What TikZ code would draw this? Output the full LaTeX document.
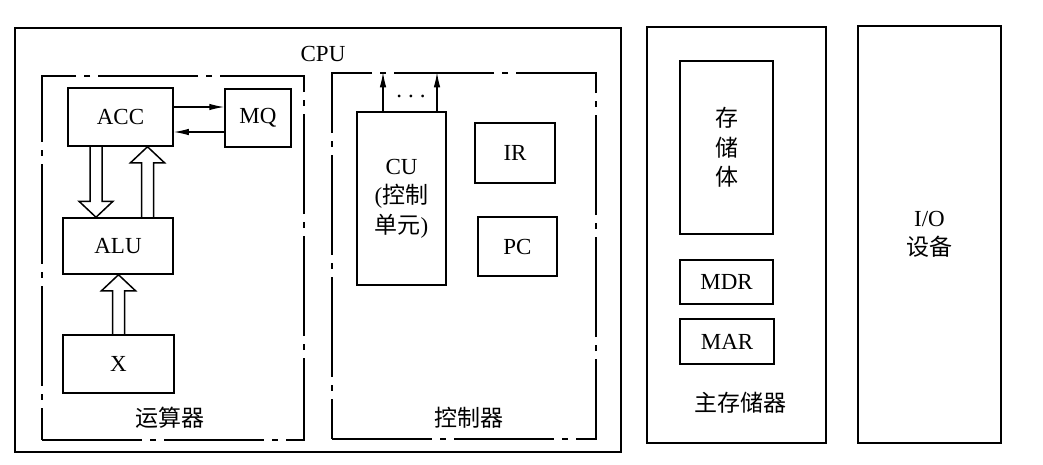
\documentclass[tikz,border=0pt]{standalone}
\usepackage{fontspec}
\setmainfont{Liberation Serif}
\newfontfamily\cjk{Noto Sans CJK SC}
\usetikzlibrary{arrows.meta,calc}
\tikzset{
  box/.style={draw, line width=1.5pt, inner sep=0pt, align=center},
  groupbox/.style={draw, line width=1.5pt, inner sep=0pt, dash pattern=on 100pt off 8pt on 6pt off 8pt},
  lbl/.style={inner sep=0pt},
  hollow/.style={line width=1.5pt, line join=miter},
  thin arrow/.style={line width=1.2pt, -{Latex[length=15pt,width=6.5pt]}}
}
\newcommand\hollowarrow[2]{%
  \draw[hollow] let \p1=(#1), \p2=(#2), \n1={ifthenelse(\y1>\y2,1,-1)} in
    ({\x1-6pt},\y1) -- ({\x1-6pt},{\y2+\n1*16pt}) -- ({\x1-17pt},{\y2+\n1*16pt}) -- (\x1,\y2)
    -- ({\x1+17pt},{\y2+\n1*16pt}) -- ({\x1+6pt},{\y2+\n1*16pt}) -- ({\x1+6pt},\y1);
}
\begin{document}
\begin{tikzpicture}[x=1pt,y=-1pt,font=\fontsize{23}{29.5}\selectfont]
\useasboundingbox (0,0) rectangle (1043,464);
% CPU
\node[box, minimum width=606, minimum height=424] (cpu) at (318,240) {};
\node[lbl] (cpulbl) at (323,54) {CPU};
% arithmetic unit
\node[groupbox, minimum width=262, minimum height=364] (arith) at (173,258) {};
\node[lbl] (arithlbl) at (170,418) {\cjk 运算器};
\node[box, minimum width=105, minimum height=58] (acc) at (120.5,117) {ACC};
\node[box, minimum width=66, minimum height=58] (mq) at (258,118) {MQ};
\node[box, minimum width=110, minimum height=56] (alu) at (118,246) {ALU};
\node[box, minimum width=111, minimum height=58] (xreg) at (118.5,364) {X};
\draw[thin arrow] ([yshift=10pt]acc.east) -- ([yshift=10pt]acc.east -| mq.west);
\draw[thin arrow] ([yshift=-15pt]acc.east -| mq.west) -- ([yshift=-15pt]acc.east);
\coordinate (d1s) at ([xshift=-24.5pt]acc.south);
\coordinate (d1t) at (d1s |- alu.north);
\coordinate (u1s) at ([xshift=29.5pt]alu.north);
\coordinate (u1t) at (u1s |- acc.south);
\coordinate (u2t) at (xreg.north |- alu.south);
\hollowarrow{d1s}{d1t}
\hollowarrow{u1s}{u1t}
\hollowarrow{xreg.north}{u2t}
% control unit
\node[groupbox, minimum width=264, minimum height=366] (ctrl) at (464,256) {};
\node[lbl] (ctrllbl) at (469,418) {\cjk 控制器};
\node[box, minimum width=89, minimum height=173] (cu) at (401.5,198.5) {CU\\({\cjk 控制}\\{\cjk 单元})};
\node[box, minimum width=80, minimum height=60] (ir) at (515,153) {IR};
\node[box, minimum width=79, minimum height=59] (pc) at (517.5,246.5) {PC};
\coordinate (c1s) at ([xshift=-18.5pt]cu.north);
\coordinate (c2s) at ([xshift=35.5pt]cu.north);
\draw[thin arrow] (c1s) -- (c1s |- ctrl.north);
\draw[thin arrow] (c2s) -- (c2s |- ctrl.north);
\node[lbl] (dots) at (411,96) {.\hspace{6pt}.\hspace{6pt}.};
% main memory
\node[box, minimum width=179, minimum height=416] (mem) at (736.5,235) {};
\node[lbl] (memlbl) at (740,403) {\cjk 主存储器};
\node[box, minimum width=93, minimum height=173] (body) at (726.5,147.5) {\cjk 存\\\cjk 储\\\cjk 体};
\node[box, minimum width=93, minimum height=44] (mdr) at (726.5,282) {MDR};
\node[box, minimum width=94, minimum height=45] (mar) at (727,341.5) {MAR};
% I/O
\node[box, minimum width=143, minimum height=417] (io) at (929.5,234.5) {I/O\\{\cjk 设备}};
\end{tikzpicture}
\end{document}
